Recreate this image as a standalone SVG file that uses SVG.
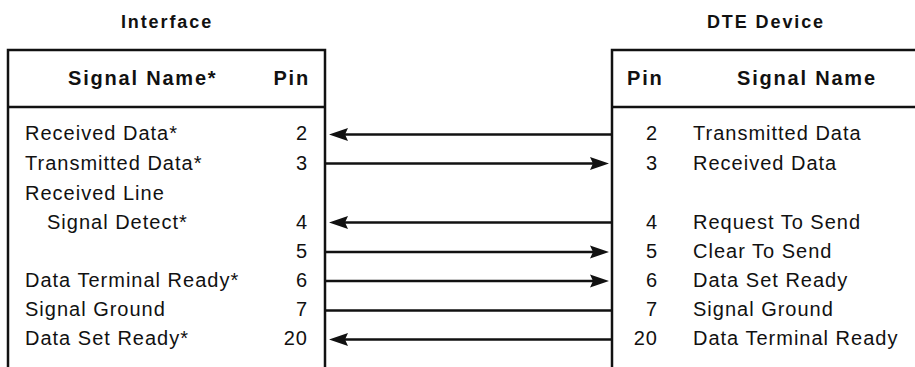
<svg xmlns="http://www.w3.org/2000/svg" width="915" height="367" viewBox="0 0 915 367">
<style>
  text { font-family: "Liberation Sans", Arial, sans-serif; fill: #111; }
  .title { font-size: 18px; font-weight: bold; letter-spacing: 1.9px; text-anchor: middle; }
  .head { font-size: 20px; font-weight: bold; letter-spacing: 1.8px; }
  .body { font-size: 20px; letter-spacing: 1px; }
  .pin { text-anchor: end; }
  .box { fill: none; stroke: #111; stroke-width: 2.5; }
  .conn { fill: none; stroke: #111; stroke-width: 2.5; }
</style>
<defs>
  <marker id="arrow" markerUnits="userSpaceOnUse" markerWidth="24" markerHeight="16" refX="0" refY="0" orient="auto" overflow="visible">
    <path d="M10,0 L-9,-6.5 L-6,0 L-9,6.5 Z" fill="#111"/>
  </marker>
</defs>
<rect width="915" height="367" fill="#fff"/>

<g id="interface">
  <text class="title" x="167" y="28">Interface</text>
  <path class="box" d="M8,367 V50 H325 V367"/>
  <path class="box" d="M8,107 H325"/>
  <text class="head" x="68" y="85">Signal Name*</text>
  <text class="head pin" x="310" y="85">Pin</text>
  <text class="body" x="25" y="140">Received Data*</text>
  <text class="body pin" x="308" y="140">2</text>
  <text class="body" x="25" y="170">Transmitted Data*</text>
  <text class="body pin" x="308" y="170">3</text>
  <text class="body" x="25" y="200">Received Line</text>
  <text class="body" x="47" y="229">Signal Detect*</text>
  <text class="body pin" x="308" y="229">4</text>
  <text class="body pin" x="308" y="258">5</text>
  <text class="body" x="25" y="287">Data Terminal Ready*</text>
  <text class="body pin" x="308" y="287">6</text>
  <text class="body" x="25" y="316">Signal Ground</text>
  <text class="body pin" x="308" y="316">7</text>
  <text class="body" x="25" y="345">Data Set Ready*</text>
  <text class="body pin" x="308" y="345">20</text>
</g>

<g id="dte">
  <text class="title" x="766" y="28">DTE Device</text>
  <path class="box" d="M612,367 V50 H915"/>
  <path class="box" d="M612,107 H915"/>
  <text class="head" x="627" y="85">Pin</text>
  <text class="head" x="737" y="85">Signal Name</text>
  <text class="body pin" x="658" y="140">2</text>
  <text class="body" x="693" y="140">Transmitted Data</text>
  <text class="body pin" x="658" y="170">3</text>
  <text class="body" x="693" y="170">Received Data</text>
  <text class="body pin" x="658" y="229">4</text>
  <text class="body" x="693" y="229">Request To Send</text>
  <text class="body pin" x="658" y="258">5</text>
  <text class="body" x="693" y="258">Clear To Send</text>
  <text class="body pin" x="658" y="287">6</text>
  <text class="body" x="693" y="287">Data Set Ready</text>
  <text class="body pin" x="658" y="316">7</text>
  <text class="body" x="693" y="316">Signal Ground</text>
  <text class="body pin" x="658" y="345">20</text>
  <text class="body" x="693" y="345">Data Terminal Ready</text>
</g>

<g id="connectors">
  <line class="conn" x1="612" y1="134.5" x2="339" y2="134.5" marker-end="url(#arrow)"/>
  <line class="conn" x1="325" y1="163.5" x2="599" y2="163.5" marker-end="url(#arrow)"/>
  <line class="conn" x1="612" y1="222.5" x2="339" y2="222.5" marker-end="url(#arrow)"/>
  <line class="conn" x1="325" y1="252" x2="599" y2="252" marker-end="url(#arrow)"/>
  <line class="conn" x1="325" y1="281" x2="599" y2="281" marker-end="url(#arrow)"/>
  <line class="conn" x1="325" y1="310.5" x2="612" y2="310.5"/>
  <line class="conn" x1="612" y1="339.5" x2="339" y2="339.5" marker-end="url(#arrow)"/>
</g>
</svg>
